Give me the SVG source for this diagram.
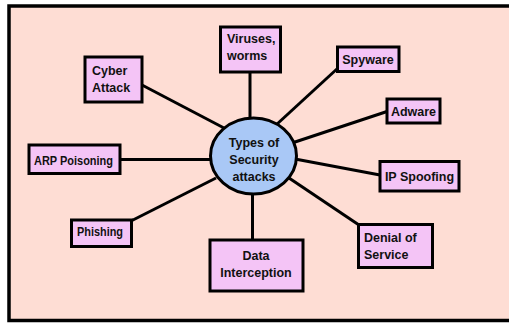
<svg xmlns="http://www.w3.org/2000/svg" width="509" height="323" viewBox="0 0 509 323">
  <style>
    .frame { fill: #FEDDD4; stroke: #000; stroke-width: 3.5; }
    .box { fill: #F4C4F6; stroke: #000; stroke-width: 3; }
    .hub { fill: #A9C8F6; stroke: #000; stroke-width: 3; }
    .link { stroke: #000; stroke-width: 3; fill: none; }
    text { font-family: "Liberation Sans", Arial, sans-serif; font-weight: bold; font-size: 12.5px; fill: #111; }
    .c { text-anchor: middle; }
  </style>

  <!-- background panel -->
  <rect class="frame" x="9" y="6" width="510" height="314.5"/>

  <!-- spokes from the hub to each category -->
  <g id="connectors">
    <line class="link" x1="250" y1="71" x2="250" y2="118"/>
    <line class="link" x1="142" y1="85" x2="224" y2="128"/>
    <line class="link" x1="121" y1="159.5" x2="211" y2="159.5"/>
    <line class="link" x1="131" y1="221" x2="216" y2="178"/>
    <line class="link" x1="252.5" y1="194" x2="252.5" y2="240"/>
    <line class="link" x1="289" y1="178" x2="359" y2="225"/>
    <line class="link" x1="295" y1="159" x2="380" y2="175"/>
    <line class="link" x1="292" y1="143" x2="387" y2="111.5"/>
    <line class="link" x1="276" y1="125" x2="338" y2="68"/>
  </g>

  <g id="hub">
    <ellipse class="hub" cx="253.5" cy="156" rx="43" ry="38"/>
    <text class="c" x="254" y="147">Types of</text>
    <text class="c" x="254" y="164">Security</text>
    <text class="c" x="254" y="181">attacks</text>
  </g>

  <g id="viruses">
    <rect class="box" x="220.5" y="27" width="60" height="45"/>
    <text x="227" y="43">Viruses,</text>
    <text x="227" y="60">worms</text>
  </g>

  <g id="cyber-attack">
    <rect class="box" x="85" y="57" width="57" height="45"/>
    <text x="92" y="75">Cyber</text>
    <text x="92" y="92">Attack</text>
  </g>

  <g id="arp-poisoning">
    <rect class="box" x="29" y="145" width="91" height="28.5"/>
    <text x="34" y="165" textLength="79" lengthAdjust="spacingAndGlyphs">ARP Poisoning</text>
  </g>

  <g id="phishing">
    <rect class="box" x="71.5" y="220" width="60" height="26.5"/>
    <text x="77" y="236" textLength="46" lengthAdjust="spacingAndGlyphs">Phishing</text>
  </g>

  <g id="data-interception">
    <rect class="box" x="210" y="240" width="93" height="51"/>
    <text class="c" x="256" y="260">Data</text>
    <text class="c" x="256" y="277">Interception</text>
  </g>

  <g id="denial-of-service">
    <rect class="box" x="358.5" y="224.5" width="74" height="43"/>
    <text x="364" y="242">Denial of</text>
    <text x="364" y="258.5">Service</text>
  </g>

  <g id="ip-spoofing">
    <rect class="box" x="380" y="161.5" width="79" height="29.5"/>
    <text class="c" x="419.5" y="181">IP Spoofing</text>
  </g>

  <g id="adware">
    <rect class="box" x="387" y="99" width="53" height="24"/>
    <text class="c" x="413.5" y="115.5">Adware</text>
  </g>

  <g id="spyware">
    <rect class="box" x="337.5" y="47" width="61.5" height="24.5"/>
    <text class="c" x="368" y="63.5">Spyware</text>
  </g>
</svg>
